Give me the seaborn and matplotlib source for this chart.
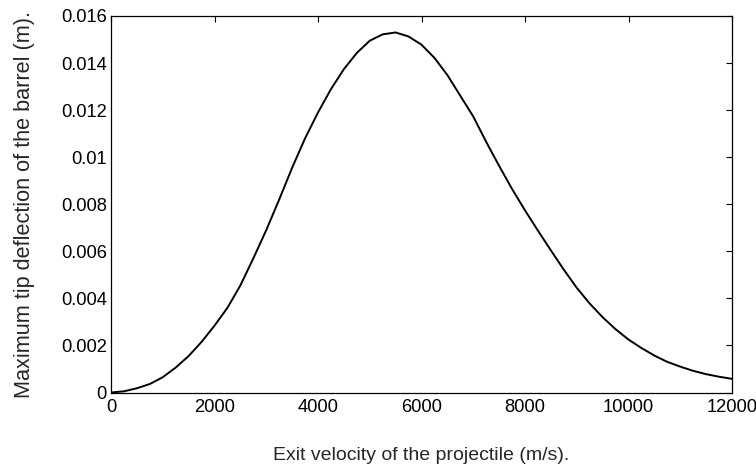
import matplotlib
matplotlib.use("Agg")
import matplotlib.pyplot as plt
import seaborn as sns
import pandas as pd

velocity = [0, 250, 500, 750, 1000, 1250, 1500, 1750, 2000, 2250, 2500, 2750, 3000,
            3250, 3500, 3750, 4000, 4250, 4500, 4750, 5000, 5250, 5500, 5750, 6000,
            6250, 6500, 6750, 7000, 7250, 7500, 7750, 8000, 8250, 8500, 8750, 9000,
            9250, 9500, 9750, 10000, 10250, 10500, 10750, 11000, 11250, 11500, 11750,
            12000]
deflection = [0.0, 0.00005, 0.00018, 0.00036, 0.00065, 0.00106, 0.00155, 0.00215,
              0.00284, 0.0036, 0.00455, 0.0057, 0.0069, 0.0082, 0.00955, 0.0108,
              0.0119, 0.01289, 0.01374, 0.01443, 0.01495, 0.01522, 0.0153, 0.01513,
              0.01478, 0.01422, 0.01349, 0.01261, 0.01173, 0.01065, 0.00963, 0.00865,
              0.00774, 0.00688, 0.00604, 0.00522, 0.00445, 0.00378, 0.0032, 0.00269,
              0.00225, 0.00189, 0.00157, 0.0013, 0.0011, 0.00092, 0.00078, 0.00067,
              0.00058]
xticks = [0, 2000, 4000, 6000, 8000, 10000, 12000]
yticks = [0, 0.002, 0.004, 0.006, 0.008, 0.01, 0.012, 0.014, 0.016]
ytick_labels = ["0", "0.002", "0.004", "0.006", "0.008", "0.01", "0.012", "0.014", "0.016"]

sns.set_theme(style="white")
plt.rcParams['font.family'] = ['Liberation Sans', 'DejaVu Sans']

df = pd.DataFrame({"v": velocity, "d": deflection})

fig = plt.figure(figsize=(7.56, 4.74), dpi=100)
ax = fig.add_axes([111/756, 1 - 392.5/474, (732 - 111)/756, (392.5 - 16)/474])
sns.lineplot(data=df, x="v", y="d", ax=ax, color="black", linewidth=1.4, sort=True)

ax.set_xlim(0, 12000)
ax.set_ylim(0, 0.016)
ax.set_xticks(xticks)
ax.set_xticklabels([str(t) for t in xticks])
ax.set_yticks(yticks)
ax.set_yticklabels(ytick_labels)
ax.tick_params(direction="in", length=4, width=0.8, top=True, right=True,
               labelsize=13.2, colors="black", pad=3)
ax.tick_params(axis="x", pad=5)
for s in ax.spines.values():
    s.set_visible(True)
    s.set_color("black")
    s.set_linewidth(0.9)

ax.set_xlabel("Exit velocity of the projectile (m/s).", fontsize=14.0)
ax.set_ylabel("Maximum tip deflection of the barrel (m).", fontsize=15.6)
ax.xaxis.set_label_coords(0.5, (392.5 - 447) / 376.5)
ax.yaxis.set_label_coords((35 - 111) / 621, 0.5)

fig.savefig("out.png", dpi=100)
